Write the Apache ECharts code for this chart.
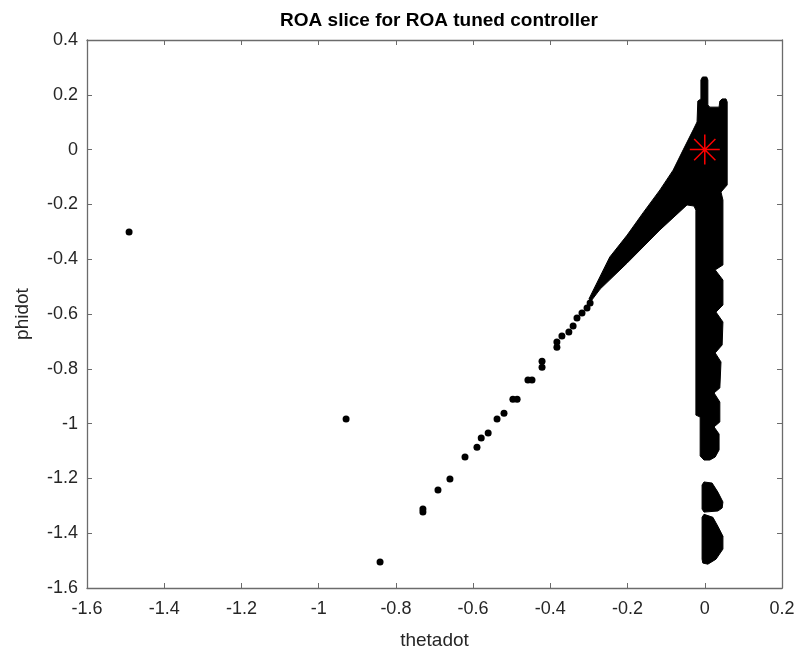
<!DOCTYPE html>
<html><head><meta charset="utf-8">
<script src="https://cdn.jsdelivr.net/npm/echarts@6/dist/echarts.min.js"></script>
<style>html,body{margin:0;padding:0;background:#fff}#c{width:801px;height:656px}</style>
</head><body><div id="c"></div>
<script>
// ---- data ----
const titleText = 'ROA slice for ROA tuned controller';
const xName = 'thetadot';
const yName = 'phidot';
const xTickLabels = ['-1.6','-1.4','-1.2','-1','-0.8','-0.6','-0.4','-0.2','0','0.2'];
const yTickLabels = ['-1.6','-1.4','-1.2','-1','-0.8','-0.6','-0.4','-0.2','0','0.2','0.4'];

// dense clouds of ROA sample points (outline of the packed markers, data units)
const roaMainOutline = [[-0.006,0.265],[0.005,0.265],[0.008,0.254],[0.008,0.163],[0.013,0.155],[0.037,0.155],[0.039,0.177],[0.045,0.185],[0.055,0.185],[0.058,0.174],
 [0.058,-0.129],[0.042,-0.155],[0.047,-0.184],[0.047,-0.421],[0.027,-0.439],[0.047,-0.476],[0.047,-0.567],[0.029,-0.593],[0.047,-0.629],[0.045,-0.713],[0.027,-0.742],[0.042,-0.775],[0.039,-0.870],[0.024,-0.888],[0.039,-0.921],[0.039,-0.994],[0.024,-1.012],[0.037,-1.038],[0.037,-1.096],[0.027,-1.122],[0.013,-1.133],[-0.002,-1.133],[-0.012,-1.118],[-0.012,-0.976],[-0.023,-0.969],[-0.023,-0.221],[-0.028,-0.206],[-0.046,-0.202],[-0.116,-0.293],[-0.201,-0.414],[-0.271,-0.509],[-0.294,-0.552],[-0.300,-0.545],[-0.282,-0.494],[-0.246,-0.392],[-0.201,-0.312],[-0.160,-0.231],[-0.116,-0.147],[-0.082,-0.075],[-0.056,-0.001],[-0.030,0.072],[-0.020,0.101],[-0.018,0.177],[-0.010,0.185],[-0.010,0.254]];
const roaBlobA = [[-0.007,-1.224],[-0.002,-1.213],[0.019,-1.217],[0.034,-1.250],[0.047,-1.286],[0.045,-1.308],[0.034,-1.319],[-0.002,-1.323],[-0.007,-1.312]];
const roaBlobB = [[-0.007,-1.342],[-0.002,-1.331],[0.021,-1.342],[0.034,-1.375],[0.047,-1.411],[0.047,-1.458],[0.029,-1.495],[0.008,-1.513],[-0.005,-1.509],[-0.007,-1.495]];

// isolated sample points
const thetadot = [-0.297,-0.305,-0.318,-0.331,-0.341,-0.352,-0.370,-0.383,-0.383,-0.4215,-0.4215,-0.4475,-0.458,-0.486,-0.497,-0.520,-0.538,-0.561,-0.579,-0.590,-0.621,-0.660,-0.691,-0.730,-0.730,-0.841,-0.929,-1.491];
const phidot   = [-0.560,-0.578,-0.596,-0.615,-0.644,-0.666,-0.680,-0.702,-0.721,-0.772,-0.794,-0.841,-0.841,-0.911,-0.911,-0.962,-0.983,-1.034,-1.053,-1.086,-1.122,-1.202,-1.242,-1.312,-1.323,-1.505,-0.983,-0.301];

// equilibrium marker
const equilibrium = [0, 0];

// ---- chart ----
const regions = [roaMainOutline, roaBlobA, roaBlobB];
const textColor = '#262626';
const axisColor = '#6b6b6b';
const font = '"Liberation Sans", Arial, Helvetica, sans-serif';

function axisBase(extra) {
  return Object.assign({
    type: 'value',
    axisLine: { show: true, onZero: false, lineStyle: { color: axisColor, width: 1.3 } },
    axisTick: { show: true, inside: true, length: 5, lineStyle: { color: axisColor, width: 1 } },
    splitLine: { show: false }
  }, extra);
}

const chart = echarts.init(document.getElementById('c'), null, { renderer: 'canvas' });
chart.setOption({
  animation: false,
  backgroundColor: '#ffffff',
  title: {
    text: titleText, left: 434, top: 6, textAlign: 'center',
    textStyle: { fontFamily: font, fontSize: 19, fontWeight: 'bold', color: '#000' }
  },
  grid: { left: 87, right: 19, top: 40, bottom: 68, containLabel: false },
  xAxis: [
    axisBase({
      position: 'bottom', min: -1.6, max: 0.2, interval: 0.2,
      name: xName, nameLocation: 'middle', nameGap: 43,
      nameTextStyle: { fontFamily: font, fontSize: 19, color: textColor },
      axisLabel: { show: true, margin: 12, fontFamily: font, fontSize: 18, color: textColor,
        formatter: v => xTickLabels[Math.round((v + 1.6) / 0.2)] }
    }),
    axisBase({ position: 'top', min: -1.6, max: 0.2, interval: 0.2, axisLabel: { show: false } })
  ],
  yAxis: [
    axisBase({
      position: 'left', min: -1.6, max: 0.4, interval: 0.2,
      name: yName, nameLocation: 'middle', nameGap: 55,
      nameTextStyle: { fontFamily: font, fontSize: 19, color: textColor },
      axisLabel: { show: true, margin: 9, fontFamily: font, fontSize: 18, color: textColor,
        formatter: v => yTickLabels[Math.round((v + 1.6) / 0.2)] }
    }),
    axisBase({ position: 'right', min: -1.6, max: 0.4, interval: 0.2, axisLabel: { show: false } })
  ],
  series: [
    {
      type: 'custom', xAxisIndex: 0, yAxisIndex: 0, z: 2,
      data: regions.map((r, i) => [r[0][0], r[0][1], i]),
      renderItem: (params, api) => {
        const r = regions[params.dataIndex];
        const pts = r.map(p => api.coord(p));
        return { type: 'polygon', shape: { points: pts }, style: { fill: '#000', stroke: '#000', lineWidth: 1 } };
      }
    },
    {
      type: 'scatter', xAxisIndex: 0, yAxisIndex: 0, z: 3,
      symbol: 'circle', symbolSize: 7,
      itemStyle: { color: '#000', opacity: 1 },
      emphasis: { disabled: true },
      data: thetadot.map((x, i) => [x, phidot[i]])
    },
    {
      type: 'scatter', xAxisIndex: 0, yAxisIndex: 0, z: 5,
      symbol: 'path://M12,0L12,24M0,12L24,12M3.5,3.5L20.5,20.5M3.5,20.5L20.5,3.5',
      symbolSize: 30,
      itemStyle: { color: 'none', borderColor: '#ff0000', borderWidth: 1.5, opacity: 1 },
      emphasis: { disabled: true },
      data: [equilibrium]
    }
  ]
});
</script>
</body></html>
